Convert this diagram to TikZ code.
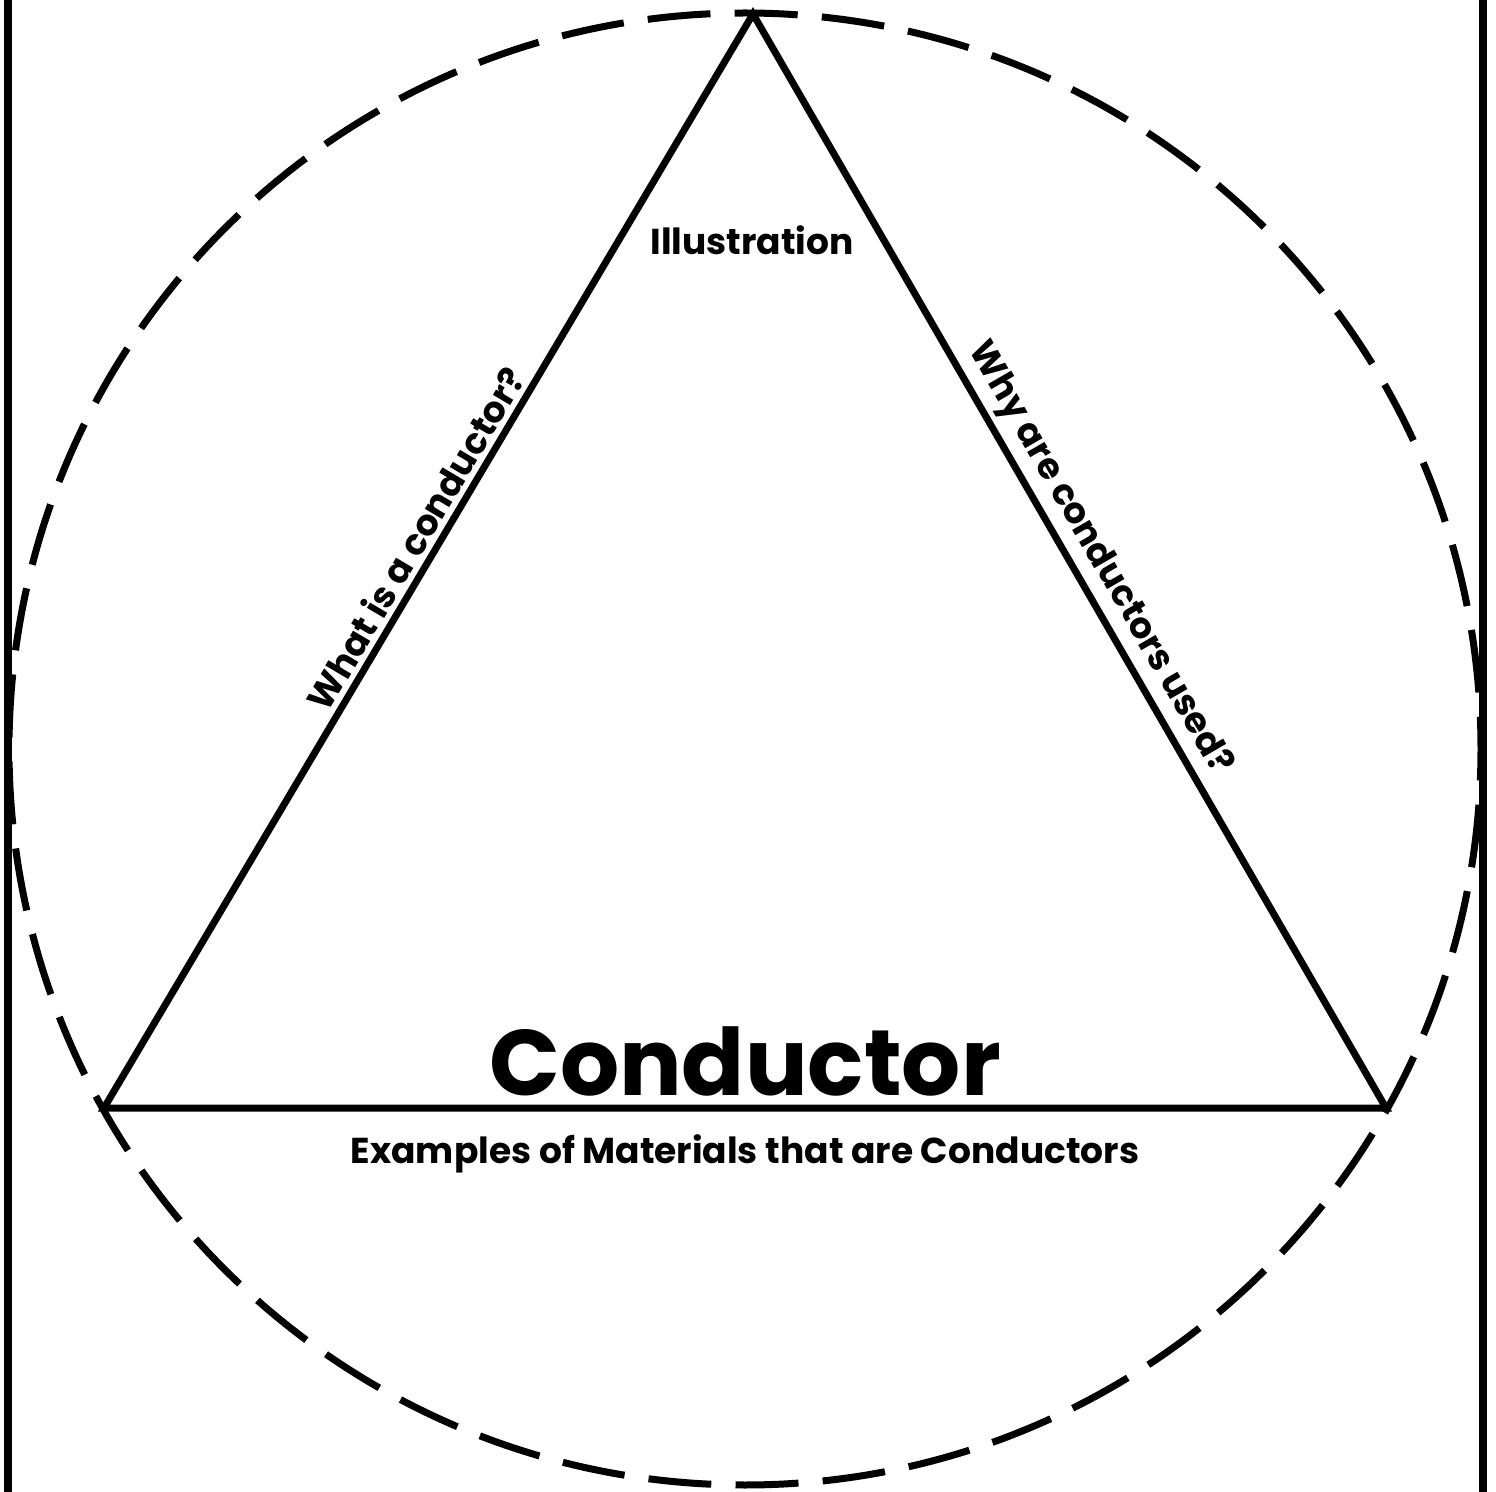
\documentclass[tikz,border=0pt]{standalone}
\usepackage{fontspec}
\setmainfont{Poppins}
\usetikzlibrary{positioning,calc}

\tikzset{
  side/.style={line width=3.5pt,line join=miter},
  ring/.style={line width=3.5pt,dash pattern=on 31.5pt off 12.125pt,dash phase=15.75pt},
  edgelabel/.style={font=\fontsize{18}{21}\selectfont\bfseries,inner sep=2.5pt},
  bigword/.style={font=\fontsize{46.5}{50}\selectfont\bfseries,inner sep=0pt}
}

\begin{document}
\begin{tikzpicture}[x=0.5pt,y=-0.5pt]
      \useasboundingbox (0,0) rectangle (1496,1492);
      \draw[line width=4pt] (8,0) -- (8,1492);
      \draw[line width=4pt] (1483,0) -- (1483,1492);
      \draw[ring] (745,749) circle[radius=736];

      \coordinate (top) at (753,14);
      \coordinate (left) at (104,1108);
      \coordinate (right) at (1386,1108);

      \draw[side] (left) -- node[edgelabel,sloped,above,pos=.51] (what) {What is a conductor?} (top)
        -- node[edgelabel,sloped,above,pos=.51] (why) {Why are conductors used?} (right) -- cycle;

      \node[edgelabel] (illus) at (752,240) {Illustration};
      \node[bigword,anchor=base] (cond) at (745,1095) {Conductor};
      \node[edgelabel,anchor=base] (examples) at (745,1163) {Examples of Materials that are Conductors};
\end{tikzpicture}
\end{document}
